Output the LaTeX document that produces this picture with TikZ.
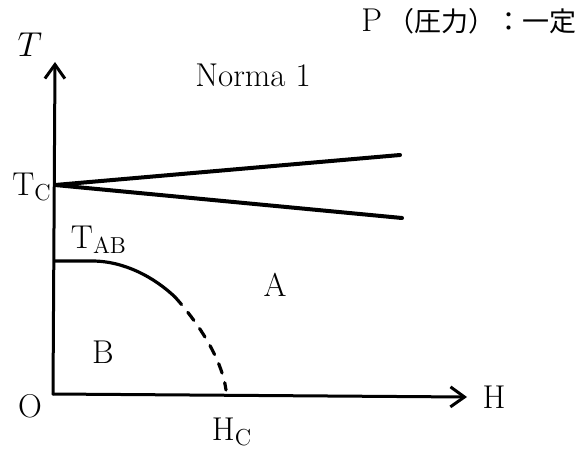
\documentclass[tikz,border=0pt]{standalone}
\usepackage{fontspec}
\newfontfamily\cjk{Noto Sans CJK JP}
\usetikzlibrary{arrows.meta}

\begin{document}
\begin{tikzpicture}[x=0.5pt,y=-0.5pt,>={Straight Barb[length=7pt,width=10pt]},line cap=round,line join=round,
  every node/.style={font=\fontsize{16.5}{20}\selectfont,inner sep=0pt}]
  \useasboundingbox (0,0) rectangle (581,449);

  % axes
  \coordinate (O) at (53,394);
  \coordinate (Tend) at (55,62);
  \coordinate (Hend) at (467,397);
  \draw[line width=1.5pt,->] (O) -- (Hend);
  \draw[line width=1.5pt,->] (O) -- (Tend);

  % labels
  \node (tlab) at (30,45) {$T$};
  \node (olab) at (30,406) {O};
  \node (hlab) at (494,397) {H};
  \node (hclab) at (232,432) {H$_{\mathrm{C}}$};
  \node (tclab) at (32,187) {T$_{\mathrm{C}}$};
  \node (tablab) at (99,240) {T$_{\mathrm{AB}}$};
  \node (alab) at (275,285) {A};
  \node (blab) at (103,352) {B};
  \node (normlab) at (253,75) {Norma 1};
  \node (plab) at (469,21) {P\,{\cjk\fontsize{13.5}{16}\selectfont （圧力）：一定}};

  % lines
  \coordinate (Tc) at (55,185);
  \coordinate (up) at (400,155);
  \coordinate (lo) at (402,218);
  \draw[line width=2pt] (up) -- (Tc) -- (lo);

  % curve
  \coordinate (tab) at (55,261);
  \coordinate (bend) at (175,297);
  \coordinate (hc) at (226,390);
  \draw[line width=1.6pt] (tab) -- (92,261) .. controls (125,261) and (155,278) .. (bend);
  \draw[line width=1.6pt,dash pattern=on 5pt off 5pt] (bend) .. controls (200,325) and (222,360) .. (hc);
\end{tikzpicture}
\end{document}
